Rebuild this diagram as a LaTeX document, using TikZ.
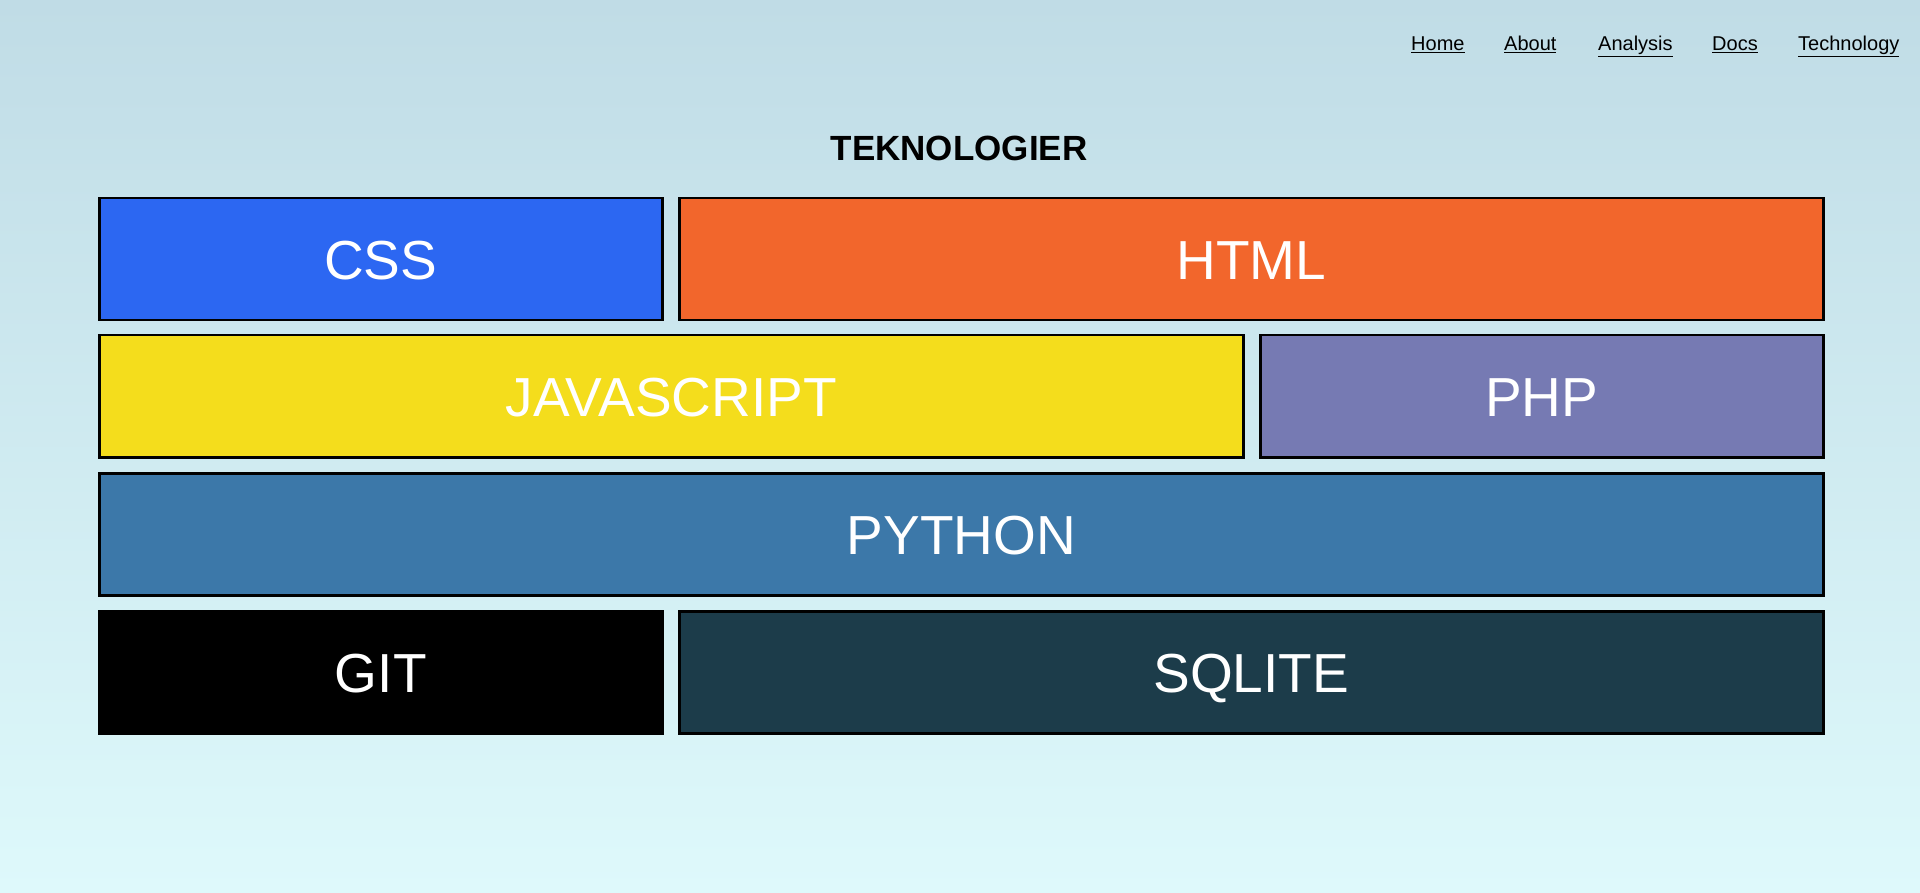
\documentclass[tikz,border=0pt]{standalone}
\usepackage{fontspec}
\setmainfont{Liberation Sans}
\usepackage{tikz}
\usetikzlibrary{positioning}

\definecolor{bgtop}{RGB}{192,220,230}
\definecolor{bgbot}{RGB}{222,249,251}
\definecolor{cssblue}{RGB}{44,103,242}
\definecolor{htmlorange}{RGB}{242,102,44}
\definecolor{jsyellow}{RGB}{244,221,28}
\definecolor{phpviolet}{RGB}{118,122,179}
\definecolor{pyblue}{RGB}{60,120,169}
\definecolor{sqlteal}{RGB}{28,60,74}

\tikzset{
  techbox/.style={draw=black, line width=2.5pt, anchor=north west, inner sep=0pt,
    minimum height=122pt, text height=40pt, text depth=0pt,
    text=white, font=\fontsize{55}{66}\selectfont},
  navlink/.style={anchor=base west, inner sep=0pt, font=\fontsize{20}{24}\selectfont},
}

\begin{document}
\begin{tikzpicture}[x=1pt,y=-1pt]

% ---- Background ----
\shade[top color=bgtop, bottom color=bgbot] (0,0) rectangle (1920,893);
\useasboundingbox (0,0) rectangle (1920,893);

% ---- Navigation ----
\node[navlink] (home) at (1411,51) {\underline{Home}};
\node[navlink] (about) at (1504,51) {\underline{About}};
\node[navlink] (analysis) at (1598,51) {\underline{Analysis}};
\node[navlink] (docs) at (1712,51) {\underline{Docs}};
\node[navlink] (tech) at (1798,51) {\underline{Technology}};

% ---- Title ----
\node[anchor=base, inner sep=0pt, font=\bfseries\fontsize{35}{42}\selectfont] (title) at (959,161) {TEKNOLOGIER};

% ---- Row 1 ----
\node[techbox, fill=cssblue, minimum width=563pt] (css) at (98,197) {CSS};
\node[techbox, fill=htmlorange, minimum width=1144pt] (html) at (678,197) {HTML};

% ---- Row 2 ----
\node[techbox, fill=jsyellow, minimum width=1144pt] (js) at (98,334) {JAVASCRIPT};
\node[techbox, fill=phpviolet, minimum width=563pt] (php) at (1259,334) {PHP};

% ---- Row 3 ----
\node[techbox, fill=pyblue, minimum width=1724pt] (python) at (98,472) {PYTHON};

% ---- Row 4 ----
\node[techbox, fill=black, minimum width=563pt] (git) at (98,610) {GIT};
\node[techbox, fill=sqlteal, minimum width=1144pt] (sqlite) at (678,610) {SQLITE};

\end{tikzpicture}
\end{document}
